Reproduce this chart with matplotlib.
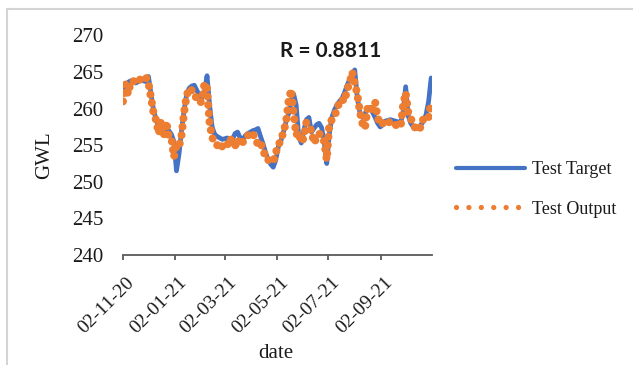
import matplotlib
matplotlib.use("Agg")
import matplotlib.pyplot as plt
import matplotlib.transforms as mtransforms
from matplotlib.lines import Line2D
import pandas as pd

# ---------------- data ----------------
start_date = "2020-11-02"
step = "3D"

test_target = [
    262.5, 263.3, 263.6, 263.8, 263.6, 263.5, 263.7, 263.9, 263.8, 263.7,
    264.4, 262.0, 259.8, 258.5, 257.6, 257.4, 257.3, 257.2, 257.0, 256.5,
    255.5, 251.5, 253.8, 257.0, 259.8, 262.0, 262.8, 263.1, 263.2, 262.5,
    261.8, 261.5, 262.3, 264.5, 260.5, 257.5, 256.5, 256.2, 256.0, 255.8,
    255.9, 256.0, 255.6, 255.8, 256.6, 256.8, 256.0, 255.8, 256.3, 256.6,
    256.8, 257.0, 257.1, 257.3, 256.2, 255.2, 254.0, 253.0, 252.4, 252.0,
    253.0, 254.8, 255.6, 256.8, 258.2, 259.3, 260.8, 262.0, 260.5, 256.2,
    255.3, 257.0, 258.5, 258.8, 256.8, 257.3, 257.8, 258.0, 257.4, 255.5,
    252.5, 256.5, 258.8, 259.8, 260.5, 261.0, 261.4, 262.2, 263.2, 264.0,
    264.8, 265.3, 261.5, 259.5, 258.8, 259.3, 260.0, 260.2, 259.5, 258.8,
    258.0, 257.5, 257.8, 258.3, 258.4, 258.5, 258.4, 258.3, 258.2, 258.0,
    259.5, 263.0, 259.0, 258.0, 257.5, 257.3, 257.4, 257.8, 258.3, 259.2,
    261.0, 264.2,
]

test_output = [
    261.0, 263.3, 262.0, 263.6, 263.8, 263.5, 263.9, 264.0, 264.4, 264.3,
    263.5, 261.5, 259.4, 258.4, 256.6, 258.3, 256.4, 258.2, 256.2, 256.0,
    253.4, 255.0, 254.8, 256.4, 259.5, 261.8, 262.8, 262.5, 262.2, 261.2,
    260.8, 261.0, 263.5, 262.8, 258.0, 256.1, 255.3, 255.0, 255.4, 254.8,
    255.2, 255.0, 256.0, 255.3, 254.9, 255.8, 255.0, 255.4, 255.9, 256.3,
    256.8, 256.5, 256.1, 255.0, 255.3, 254.5, 253.2, 253.0, 252.8, 252.7,
    254.0, 255.0, 255.7, 256.8, 258.1, 261.0, 262.6, 259.5, 256.4, 256.8,
    255.4, 256.0, 258.1, 257.5, 257.0, 255.3, 256.0, 256.6, 256.3, 255.5,
    253.0, 257.8, 258.5, 259.0, 259.8, 261.0, 261.3, 261.0, 262.6, 263.5,
    265.0, 263.5, 262.0, 259.6, 258.0, 257.3, 260.0, 259.5, 260.2, 260.9,
    258.8, 257.8, 258.0, 257.7, 258.0, 258.3, 258.0, 257.8, 257.6, 257.5,
    260.5, 262.2, 259.5, 258.7, 257.8, 257.2, 257.0, 257.6, 258.7, 259.0,
    258.8, 260.9,
]

tick_dates = ["2020-11-02", "2021-01-02", "2021-03-02", "2021-05-02",
              "2021-07-02", "2021-09-02"]
tick_labels = ["02-11-20", "02-01-21", "02-03-21", "02-05-21", "02-07-21", "02-09-21"]
y_ticks = [240, 245, 250, 255, 260, 265, 270]
r_text = "R = 0.8811"
series_names = ["Test Target", "Test Output"]

dates = pd.date_range(start_date, periods=len(test_target), freq=step)

# ---------------- figure ----------------
W, H = 633, 365
fig = plt.figure(figsize=(W / 100, H / 100), dpi=100)
serif = ["Liberation Serif", "DejaVu Serif"]

# light grey outer frame (top & left edges visible)
frame_col = "#d4d4d4"
fig.add_artist(Line2D([7.5 / W, 1.0], [1 - 9 / H, 1 - 9 / H], transform=fig.transFigure,
                      color=frame_col, linewidth=1.5))
fig.add_artist(Line2D([7.5 / W, 7.5 / W], [0, 1 - 9 / H], transform=fig.transFigure,
                      color=frame_col, linewidth=1.5))

ax_l, ax_r, ax_t, ax_b = 123, 432, 35.5, 255
ax = fig.add_axes([ax_l / W, 1 - ax_b / H, (ax_r - ax_l) / W, (ax_b - ax_t) / H])

blue = "#4472C4"
orange = "#ED7D31"
ax.plot(dates, test_target, color=blue, linewidth=3.4, solid_capstyle="round",
        solid_joinstyle="round", zorder=2)
ax.plot(dates, test_output, color=orange, linewidth=5.8,
        linestyle=(0, (0.001, 1.05)), dash_capstyle="round", zorder=3)

ax.set_ylim(240, 270)
ax.set_yticks(y_ticks)
ax.set_xlim(pd.Timestamp("2020-11-02"), pd.Timestamp("2021-11-01"))
ax.set_xticks([pd.Timestamp(d) for d in tick_dates])
ax.set_xticklabels(tick_labels)

for s in ["top", "right", "left"]:
    ax.spines[s].set_visible(False)
ax.spines["bottom"].set_color("#595959")
ax.spines["bottom"].set_linewidth(1.3)

ax.tick_params(axis="y", length=0, pad=14, labelsize=15, labelcolor="#1a1a1a")
ax.tick_params(axis="x", direction="out", length=3.5, width=1.3, color="#595959",
               pad=10, labelsize=14, labelcolor="#1a1a1a")
for lab in ax.get_yticklabels():
    lab.set_fontfamily(serif)
offset = mtransforms.ScaledTranslation(3 / 100, 0, fig.dpi_scale_trans)
for lab in ax.get_xticklabels():
    lab.set_fontfamily(serif)
    lab.set_rotation(45)
    lab.set_ha("right")
    lab.set_va("top")
    lab.set_rotation_mode("anchor")
    lab.set_transform(lab.get_transform() + offset)

ax.set_ylabel("GWL", fontsize=15, family=serif, color="#1a1a1a")
ax.yaxis.set_label_coords((45 - ax_l) / (ax_r - ax_l), (ax_b - 155) / (ax_b - ax_t))
ax.yaxis.label.set_va("center")
ax.set_xlabel("date", fontsize=15, family=serif, color="#1a1a1a")
ax.xaxis.set_label_coords((276 - ax_l) / (ax_r - ax_l), -(354 - ax_b) / (ax_b - ax_t))
ax.xaxis.label.set_va("center")

fig.text(331 / W, 1 - 51 / H, r_text, ha="center", va="center", fontsize=15,
         fontweight="bold", family=["Lato", "DejaVu Sans"], color="#1a1a1a")

handles = [
    Line2D([], [], color=blue, linewidth=3.0, solid_capstyle="round"),
    Line2D([], [], color=orange, linewidth=3.8, linestyle=(0, (0.001, 2.35)),
           dash_capstyle="round"),
]
leg = fig.legend(handles, series_names, loc="upper left",
                 bbox_to_anchor=(456 / W, 1 - 161 / H),
                 frameon=False, handlelength=3.8, handletextpad=0.4,
                 labelspacing=1.25, borderpad=0, borderaxespad=0,
                 prop={"family": serif, "size": 13})
for t in leg.get_texts():
    t.set_color("#1a1a1a")

fig.savefig("out.png", dpi=100)
